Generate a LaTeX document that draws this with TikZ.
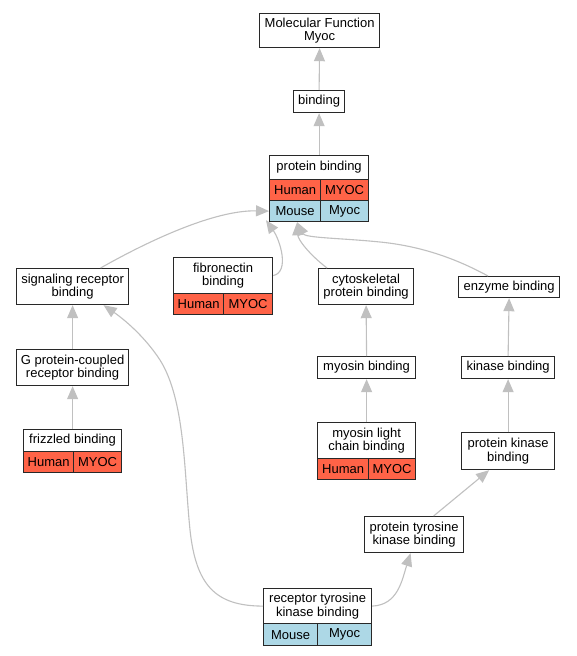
\documentclass[tikz,border=0pt]{standalone}
\usepackage{fontspec}
\setmainfont{Liberation Sans}
\usetikzlibrary{arrows.meta}
\definecolor{edgegray}{HTML}{C0C0C0}
\definecolor{hum}{HTML}{FF6347}
\definecolor{mou}{HTML}{ADD8E6}
\definecolor{bord}{HTML}{282828}
\begin{document}
\begin{tikzpicture}[x=1pt,y=-1pt,
  box/.style={draw=bord, line width=1.2pt, fill=white, inner sep=0pt, align=center,
    font=\fontsize{13}{13.5}\selectfont, anchor=north west},
  cellH/.style={box, fill=hum, minimum height=21pt},
  cellM/.style={box, fill=mou, minimum height=21pt},
  edge/.style={draw=edgegray, line width=1.1pt, -{Triangle[length=13pt,width=11pt]}}]
\useasboundingbox[fill=white] (0,0) rectangle (576,656);

% nodes
\node[box, minimum width=120pt, minimum height=34pt] (mf) at (259,13) {Molecular Function\\Myoc};
\node[box, minimum width=51pt, minimum height=22pt] (bind) at (293,90) {binding};

\node[box, minimum width=99pt, minimum height=24pt] (pb) at (269,155) {protein binding};
\node[cellH, minimum width=51pt] (pbh) at (269,179) {Human};
\node[cellH, minimum width=48pt] (pbhm) at (320,179) {MYOC};
\node[cellM, minimum width=51pt] (pbmo) at (269,200) {Mouse};
\node[cellM, minimum width=48pt] (pbmy) at (320,200) {Myoc};

\node[box, minimum width=112pt, minimum height=36pt] (srb) at (16,268) {signaling receptor\\binding};
\node[box, minimum width=99pt, minimum height=36pt] (fib) at (173,257) {fibronectin\\binding};
\node[cellH, minimum width=50pt] (fibh) at (173,293) {Human};
\node[cellH, minimum width=49pt] (fibm) at (223,293) {MYOC};
\node[box, minimum width=95pt, minimum height=36pt] (cyto) at (318,268) {cytoskeletal\\protein binding};
\node[box, minimum width=101pt, minimum height=21pt] (enz) at (458,276) {enzyme binding};

\node[box, minimum width=112pt, minimum height=36pt] (gpc) at (16,349) {G protein-coupled\\receptor binding};
\node[box, minimum width=98pt, minimum height=22pt] (myo) at (317,356) {myosin binding};
\node[box, minimum width=93pt, minimum height=22pt] (kin) at (461,356) {kinase binding};

\node[box, minimum width=98pt, minimum height=22pt] (friz) at (23,429) {frizzled binding};
\node[cellH, minimum width=50pt] (frizh) at (23,451) {Human};
\node[cellH, minimum width=48pt] (frizm) at (73,451) {MYOC};

\node[box, minimum width=98pt, minimum height=36pt] (mlc) at (317,422) {myosin light\\chain binding};
\node[cellH, minimum width=51pt] (mlch) at (317,458) {Human};
\node[cellH, minimum width=47pt] (mlcm) at (368,458) {MYOC};

\node[box, minimum width=93pt, minimum height=37pt] (pkb) at (461,432) {protein kinase\\binding};
\node[box, minimum width=99pt, minimum height=36pt] (ptk) at (364,516) {protein tyrosine\\kinase binding};

\node[box, minimum width=108pt, minimum height=35pt] (rtk) at (263,588) {receptor tyrosine\\kinase binding};
\node[cellM, minimum width=54pt, minimum height=22pt] (rtkmo) at (263,623) {Mouse};
\node[cellM, minimum width=54pt, minimum height=22pt] (rtkmy) at (317,623) {Myoc};

% edges
\draw[edge] (bind.north) -- (mf.south);
\draw[edge] (pb.north) -- (bind.south);
\draw[edge] ([xshift=28pt]srb.north) .. controls (150,240) and (215,210) .. (pbmo.west);
\draw[edge] (fib.east) .. controls (290,272) and (280,240) .. ([xshift=-3pt,yshift=2pt]pbmo.south west);
\draw[edge] ([xshift=9pt]cyto.north west) .. controls (310,255) and (298,240) .. ([xshift=2pt]pbmo.south);
\draw[edge] ([xshift=30pt]enz.north west) .. controls (455,258) and (420,246) .. (380,242)
   .. controls (340,238) and (305,238) .. ([xshift=2pt]pbmo.south);
\draw[edge] (gpc.north) -- (srb.south);
\draw[edge] (friz.north) -- (gpc.south);
\draw[edge] (myo.north) -- (cyto.south);
\draw[edge] (mlc.north) -- (myo.south);
\draw[edge] (kin.north) -- (enz.south);
\draw[edge] (pkb.north) -- (kin.south);
\draw[edge] ([xshift=19.5pt]ptk.north) -- ([xshift=-19pt]pkb.south);
\draw[edge] (rtk.east) .. controls (398,605) and (402,580) .. ([xshift=-3.5pt]ptk.south);
\draw[edge] (rtk.west) .. controls (215,606) and (196,585) .. (190,530)
   .. controls (184,470) and (185,400) .. (160,360)
   .. controls (145,337) and (125,320) .. ([xshift=31pt]srb.south);
\end{tikzpicture}
\end{document}
